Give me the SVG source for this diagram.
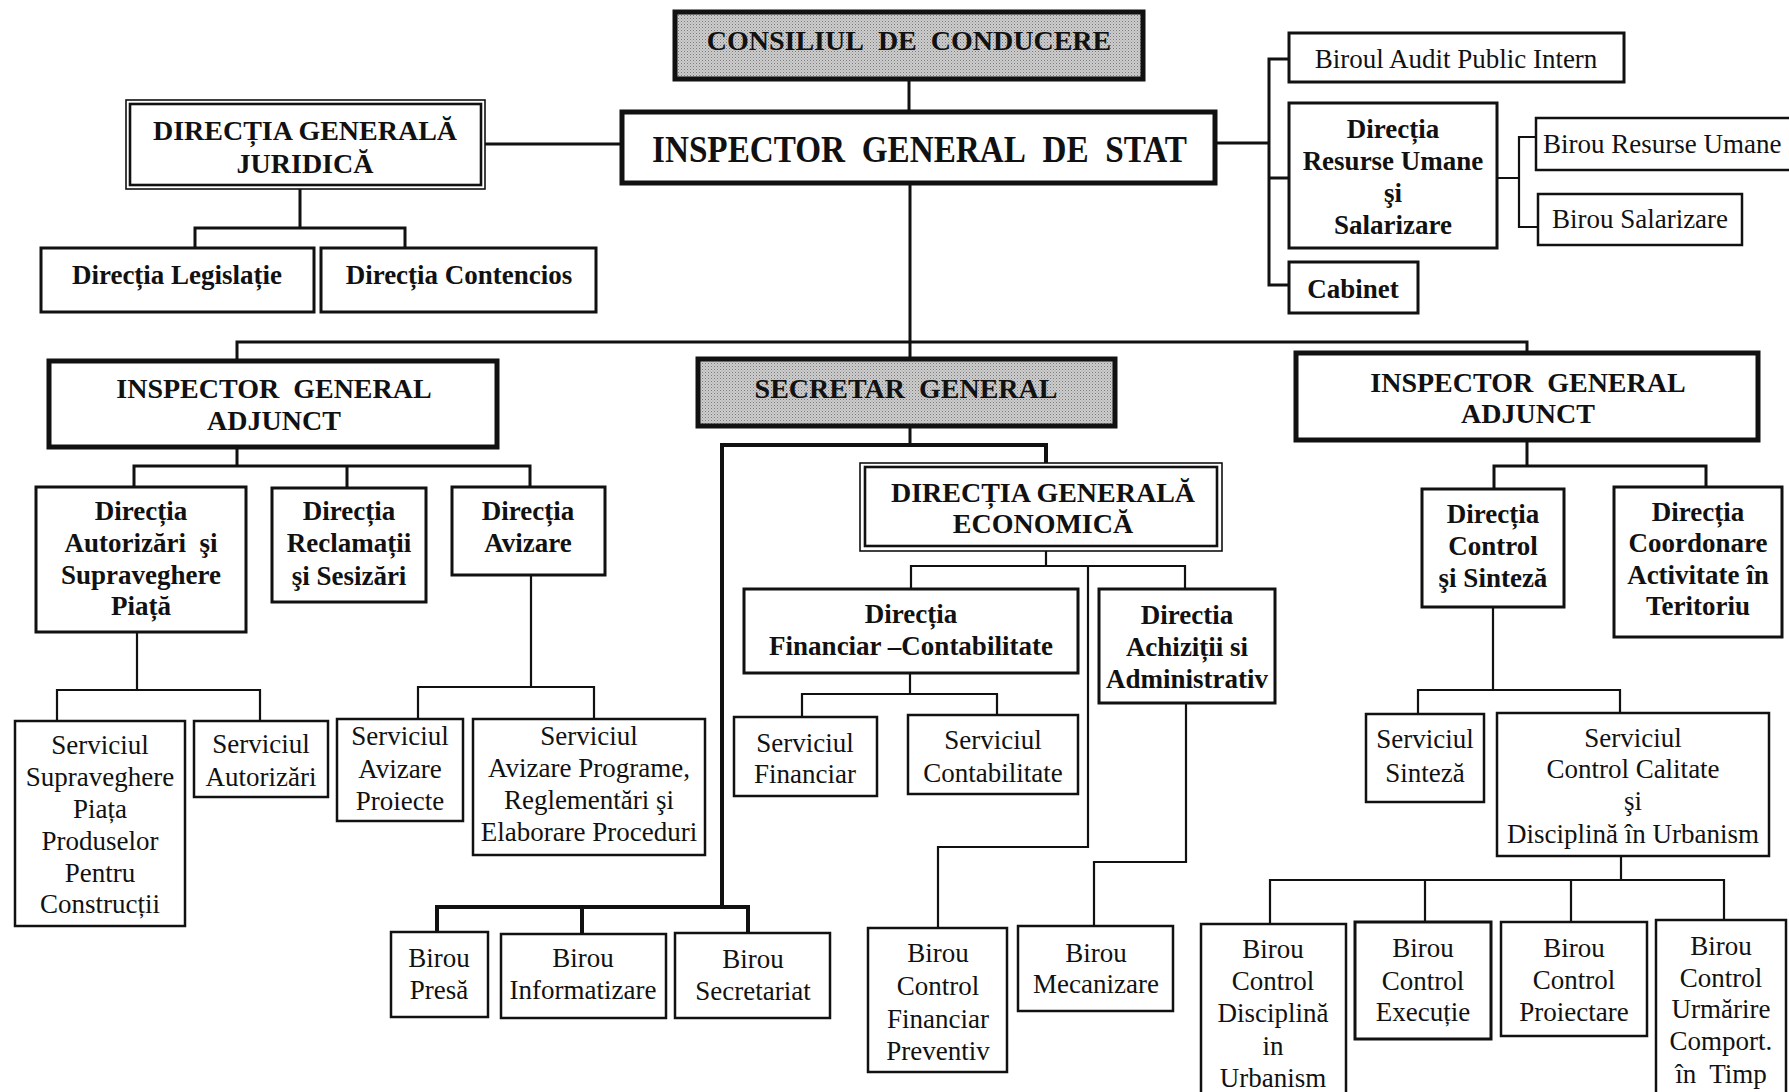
<svg xmlns="http://www.w3.org/2000/svg" width="1789" height="1092" viewBox="0 0 1789 1092">
<defs>
<pattern id="dots" width="3" height="3" patternUnits="userSpaceOnUse">
<rect width="3" height="3" fill="#cdcdcd"/>
<rect x="0" y="0" width="1" height="1" fill="#7a7a7a"/>
<rect x="1.5" y="1.5" width="1" height="1" fill="#9a9a9a"/>
</pattern>
<style>
.b5{fill:#fff;stroke:#111;stroke-width:5}
.b3{fill:#fff;stroke:#111;stroke-width:3}
.b2{fill:#fff;stroke:#111;stroke-width:2.5}
.g{fill:url(#dots)}
.o1{fill:#fff;stroke:#111;stroke-width:1.6}
.i2{fill:none;stroke:#111;stroke-width:2.6}
.c4{fill:none;stroke:#111;stroke-width:4}
.c3{fill:none;stroke:#111;stroke-width:3}
.c2{fill:none;stroke:#111;stroke-width:2.2}
text{font-family:"Liberation Serif","Times New Roman",serif;fill:#111;text-anchor:middle}
.h{font-size:28px;font-weight:bold}
.bt{font-size:27px;font-weight:bold}
.rt{font-size:27px}
</style>
</defs>
<rect width="1789" height="1092" fill="#fff"/>

<g id="connectors">
<path class="c3" d="M909 79V112"/>
<path class="c3" d="M485 144H622"/>
<path class="c3" d="M910 183V359"/>
<path class="c3" d="M237 361V342H1527V353"/>
<path class="c3" d="M1215 143H1269M1289 59H1269V285H1289M1269 178H1289"/>
<path class="c2" d="M1497 178H1519M1536 137H1519V227H1538"/>
<path class="c3" d="M300 189V228M195 248V228H405V248"/>
<path class="c3" d="M237 447V466M134 487V466H530V487M347 466V488"/>
<path class="c2" d="M137 632V690M57 721V690H260V721"/>
<path class="c2" d="M531 575V687M418 719V687H594V719"/>
<path class="c3" d="M910 426V445"/>
<path class="c4" d="M722 907V445H1046V463"/>
<path class="c4" d="M437 932V907H748V933M582 907V934"/>
<path class="c2" d="M1046 551V566M911 589V566H1185V589"/>
<path class="c2" d="M1088 566V847H938V928"/>
<path class="c2" d="M910 673V694M802 717V694H997V715"/>
<path class="c2" d="M1186 703V862H1094V926"/>
<path class="c3" d="M1527 440V466M1494 489V466H1706V487"/>
<path class="c2" d="M1493 607V690M1418 714V690H1620V713"/>
<path class="c2" d="M1621 856V880M1270 924V880H1724V920M1425 880V922M1571 880V922"/>
</g>

<g id="consiliul">
<rect class="b5 g" x="675" y="12" width="468" height="67"/>
<text class="h" x="909" y="50">CONSILIUL&#160; DE&#160; CONDUCERE</text>
</g>

<g id="inspector-general">
<rect class="b5" x="622" y="112" width="593" height="71"/>
<text class="h" x="652" y="162" style="font-size:37px;text-anchor:start" textLength="535" lengthAdjust="spacingAndGlyphs">INSPECTOR&#160; GENERAL&#160; DE&#160; STAT</text>
</g>

<g id="dg-juridica">
<rect class="o1" x="126" y="100" width="359" height="89"/>
<rect class="i2" x="130" y="104" width="351" height="81"/>
<text class="h"><tspan x="305" y="140">DIRECȚIA GENERALĂ</tspan><tspan x="305" y="173">JURIDICĂ</tspan></text>
</g>

<g id="dir-legislatie">
<rect class="b3" x="41" y="248" width="273" height="64"/>
<text class="bt" x="177" y="284">Direcția Legislație</text>
</g>

<g id="dir-contencios">
<rect class="b3" x="321" y="248" width="275" height="64"/>
<text class="bt" x="459" y="284">Direcția Contencios</text>
</g>

<g id="birou-audit">
<rect class="b3" x="1289" y="33" width="335" height="49"/>
<text class="rt" x="1456" y="68">Biroul Audit Public Intern</text>
</g>

<g id="dir-resurse-umane">
<rect class="b3" x="1289" y="103" width="208" height="145"/>
<text class="bt"><tspan x="1393" y="138">Direcția</tspan><tspan x="1393" y="170">Resurse Umane</tspan><tspan x="1393" y="202">şi</tspan><tspan x="1393" y="234">Salarizare</tspan></text>
</g>

<g id="cabinet">
<rect class="b3" x="1289" y="262" width="129" height="51"/>
<text class="bt" x="1353" y="298">Cabinet</text>
</g>

<g id="birou-resurse-umane">
<rect class="b2" x="1536" y="118" width="270" height="52"/>
<text class="rt" x="1543" y="153" style="text-anchor:start">Birou Resurse Umane</text>
</g>

<g id="birou-salarizare">
<rect class="b2" x="1538" y="194" width="204" height="51"/>
<text class="rt" x="1640" y="228">Birou Salarizare</text>
</g>

<g id="iga-left">
<rect class="b5" x="49" y="361" width="448" height="86"/>
<text class="h"><tspan x="274" y="398">INSPECTOR&#160; GENERAL</tspan><tspan x="274" y="430">ADJUNCT</tspan></text>
</g>

<g id="secretar-general">
<rect class="b5 g" x="698" y="359" width="417" height="67"/>
<text class="h" x="906" y="398">SECRETAR&#160; GENERAL</text>
</g>

<g id="iga-right">
<rect class="b5" x="1296" y="353" width="462" height="87"/>
<text class="h"><tspan x="1528" y="392">INSPECTOR&#160; GENERAL</tspan><tspan x="1528" y="423">ADJUNCT</tspan></text>
</g>

<g id="dir-autorizari">
<rect class="b3" x="36" y="487" width="210" height="145"/>
<text class="bt"><tspan x="141" y="520">Direcția</tspan><tspan x="141" y="552">Autorizări&#160; şi</tspan><tspan x="141" y="584">Supraveghere</tspan><tspan x="141" y="615">Piață</tspan></text>
</g>

<g id="dir-reclamatii">
<rect class="b3" x="272" y="488" width="154" height="114"/>
<text class="bt"><tspan x="349" y="520">Direcția</tspan><tspan x="349" y="552">Reclamații</tspan><tspan x="349" y="585">şi Sesizări</tspan></text>
</g>

<g id="dir-avizare">
<rect class="b3" x="452" y="487" width="153" height="88"/>
<text class="bt"><tspan x="528" y="520">Direcția</tspan><tspan x="528" y="552">Avizare</tspan></text>
</g>

<g id="serv-supraveghere">
<rect class="b2" x="15" y="721" width="170" height="205"/>
<text class="rt"><tspan x="100" y="754">Serviciul</tspan><tspan x="100" y="786">Supraveghere</tspan><tspan x="100" y="818">Piața</tspan><tspan x="100" y="850">Produselor</tspan><tspan x="100" y="882">Pentru</tspan><tspan x="100" y="913">Construcții</tspan></text>
</g>

<g id="serv-autorizari">
<rect class="b2" x="194" y="721" width="134" height="76"/>
<text class="rt"><tspan x="261" y="753">Serviciul</tspan><tspan x="261" y="786">Autorizări</tspan></text>
</g>

<g id="serv-avizare-proiecte">
<rect class="b2" x="337" y="719" width="126" height="102"/>
<text class="rt"><tspan x="400" y="745">Serviciul</tspan><tspan x="400" y="778">Avizare</tspan><tspan x="400" y="810">Proiecte</tspan></text>
</g>

<g id="serv-avizare-programe">
<rect class="b2" x="473" y="719" width="232" height="136"/>
<text class="rt"><tspan x="589" y="745">Serviciul</tspan><tspan x="589" y="777">Avizare Programe,</tspan><tspan x="589" y="809">Reglementări şi</tspan><tspan x="589" y="841">Elaborare Proceduri</tspan></text>
</g>

<g id="birou-presa">
<rect class="b2" x="391" y="932" width="97" height="85"/>
<text class="rt"><tspan x="439" y="967">Birou</tspan><tspan x="439" y="999">Presă</tspan></text>
</g>

<g id="birou-informatizare">
<rect class="b2" x="501" y="934" width="165" height="84"/>
<text class="rt"><tspan x="583" y="967">Birou</tspan><tspan x="583" y="999">Informatizare</tspan></text>
</g>

<g id="birou-secretariat">
<rect class="b2" x="675" y="933" width="155" height="85"/>
<text class="rt"><tspan x="753" y="968">Birou</tspan><tspan x="753" y="1000">Secretariat</tspan></text>
</g>

<g id="dg-economica">
<rect class="o1" x="860" y="463" width="362" height="88"/>
<rect class="i2" x="865" y="467" width="352" height="79"/>
<text class="h"><tspan x="1043" y="502">DIRECȚIA GENERALĂ</tspan><tspan x="1043" y="533">ECONOMICĂ</tspan></text>
</g>

<g id="dir-financiar-contabilitate">
<rect class="b3" x="744" y="589" width="334" height="84"/>
<text class="bt"><tspan x="911" y="623">Direcția</tspan><tspan x="911" y="655">Financiar –Contabilitate</tspan></text>
</g>

<g id="dir-achizitii">
<rect class="b3" x="1099" y="589" width="176" height="114"/>
<text class="bt"><tspan x="1187" y="624">Directia</tspan><tspan x="1187" y="656">Achiziții si</tspan><tspan x="1187" y="688">Administrativ</tspan></text>
</g>

<g id="serv-financiar">
<rect class="b2" x="734" y="717" width="143" height="79"/>
<text class="rt"><tspan x="805" y="752">Serviciul</tspan><tspan x="805" y="783">Financiar</tspan></text>
</g>

<g id="serv-contabilitate">
<rect class="b2" x="908" y="715" width="170" height="79"/>
<text class="rt"><tspan x="993" y="749">Serviciul</tspan><tspan x="993" y="782">Contabilitate</tspan></text>
</g>

<g id="birou-cfp">
<rect class="b2" x="868" y="928" width="139" height="144"/>
<text class="rt"><tspan x="938" y="962">Birou</tspan><tspan x="938" y="995">Control</tspan><tspan x="938" y="1028">Financiar</tspan><tspan x="938" y="1060">Preventiv</tspan></text>
</g>

<g id="birou-mecanizare">
<rect class="b2" x="1018" y="926" width="155" height="85"/>
<text class="rt"><tspan x="1096" y="962">Birou</tspan><tspan x="1096" y="993">Mecanizare</tspan></text>
</g>

<g id="dir-control-sinteza">
<rect class="b3" x="1422" y="489" width="142" height="118"/>
<text class="bt"><tspan x="1493" y="523">Direcția</tspan><tspan x="1493" y="555">Control</tspan><tspan x="1493" y="587">şi Sinteză</tspan></text>
</g>

<g id="dir-coordonare">
<rect class="b3" x="1614" y="487" width="168" height="150"/>
<text class="bt"><tspan x="1698" y="521">Direcția</tspan><tspan x="1698" y="552">Coordonare</tspan><tspan x="1698" y="584">Activitate în</tspan><tspan x="1698" y="615">Teritoriu</tspan></text>
</g>

<g id="serv-sinteza">
<rect class="b2" x="1366" y="714" width="118" height="88"/>
<text class="rt"><tspan x="1425" y="748">Serviciul</tspan><tspan x="1425" y="782">Sinteză</tspan></text>
</g>

<g id="serv-control-calitate">
<rect class="b2" x="1497" y="713" width="272" height="143"/>
<text class="rt"><tspan x="1633" y="747">Serviciul</tspan><tspan x="1633" y="778">Control Calitate</tspan><tspan x="1633" y="810">şi</tspan><tspan x="1633" y="843">Disciplină în Urbanism</tspan></text>
</g>

<g id="birou-control-disciplina">
<rect class="b2" x="1201" y="924" width="145" height="180"/>
<text class="rt"><tspan x="1273" y="958">Birou</tspan><tspan x="1273" y="990">Control</tspan><tspan x="1273" y="1022">Disciplină</tspan><tspan x="1273" y="1055">in</tspan><tspan x="1273" y="1087">Urbanism</tspan></text>
</g>

<g id="birou-control-executie">
<rect class="b3" x="1355" y="922" width="136" height="117"/>
<text class="rt"><tspan x="1423" y="957">Birou</tspan><tspan x="1423" y="990">Control</tspan><tspan x="1423" y="1021">Execuție</tspan></text>
</g>

<g id="birou-control-proiectare">
<rect class="b2" x="1501" y="922" width="146" height="114"/>
<text class="rt"><tspan x="1574" y="957">Birou</tspan><tspan x="1574" y="989">Control</tspan><tspan x="1574" y="1021">Proiectare</tspan></text>
</g>

<g id="birou-control-urmarire">
<rect class="b2" x="1656" y="920" width="130" height="184"/>
<text class="rt"><tspan x="1721" y="955">Birou</tspan><tspan x="1721" y="987">Control</tspan><tspan x="1721" y="1018">Urmărire</tspan><tspan x="1721" y="1050">Comport.</tspan><tspan x="1721" y="1083">în&#160; Timp</tspan></text>
</g>
</svg>
